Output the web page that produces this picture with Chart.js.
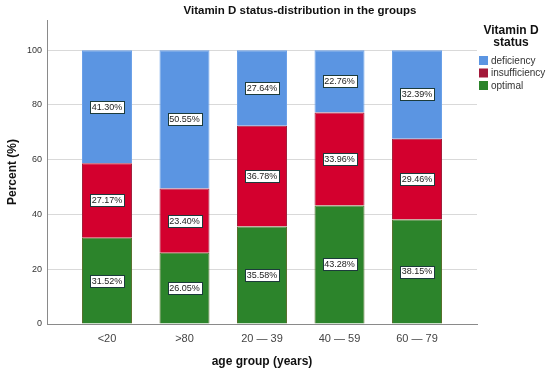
<!DOCTYPE html>
<html>
<head>
<meta charset="utf-8">
<script src="https://cdn.jsdelivr.net/npm/chart.js@4/dist/chart.umd.min.js"></script>
<style>
  html, body { margin: 0; padding: 0; background: #fff; }
  #wrap { width: 550px; height: 374px; position: relative; }
</style>
</head>
<body>
<div id="wrap"><canvas id="c" width="550" height="374"></canvas></div>
<script>
const categories = ['<20', '>80', '20 \u2014 39', '40 \u2014 59', '60 \u2014 79'];
const optimal = [31.52, 26.05, 35.58, 43.28, 38.15];
const insufficiency = [27.17, 23.40, 36.78, 33.96, 29.46];
const deficiency = [41.30, 50.55, 27.64, 22.76, 32.39];
const yTicks = [0, 20, 40, 60, 80, 100];

const FONT = '"Liberation Sans", Arial, sans-serif';
const toXY = arr => arr.map((v, i) => ({ x: i, y: v }));

const labelPlugin = {
  id: 'segLabels',
  afterDatasetsDraw(chart) {
    const ctx = chart.ctx;
    ctx.save();
    ctx.font = '9px ' + FONT;
    ctx.textAlign = 'center';
    ctx.textBaseline = 'middle';
    chart.data.datasets.forEach((ds, di) => {
      const meta = chart.getDatasetMeta(di);
      meta.data.forEach((el, i) => {
        const p = el.getProps(['x', 'y', 'base'], true);
        const cy = (p.y + p.base) / 2;
        const txt = ds.data[i].y.toFixed(2) + '%';
        const w = ctx.measureText(txt).width + 3;
        const h = 12;
        const bx = Math.round(p.x - w / 2) + 0.5, by = Math.round(cy - h / 2) + 0.5;
        ctx.fillStyle = '#ffffff';
        ctx.fillRect(bx, by, Math.round(w), h);
        ctx.strokeStyle = '#1c3b3b';
        ctx.lineWidth = 1;
        ctx.strokeRect(bx, by, Math.round(w), h);
        ctx.fillStyle = '#222';
        ctx.fillText(txt, p.x, cy + 0.5);
      });
    });
    ctx.restore();
  }
};

const textPlugin = {
  id: 'texts',
  afterDraw(chart) {
    const ctx = chart.ctx;
    const a = chart.chartArea;
    ctx.save();
    ctx.fillStyle = '#111';
    ctx.textAlign = 'center';
    ctx.textBaseline = 'middle';
    ctx.font = 'bold 11.5px ' + FONT;
    ctx.fillText('Vitamin D status-distribution in the groups', 300, 11);
    ctx.font = 'bold 12px ' + FONT;
    ctx.fillText('age group (years)', (a.left + a.right) / 2, 362);
    ctx.save();
    ctx.translate(13, (a.top + a.bottom) / 2);
    ctx.rotate(-Math.PI / 2);
    ctx.fillText('Percent (%)', 0, 0);
    ctx.restore();
    // legend
    ctx.fillText('Vitamin D', 511, 31);
    ctx.fillText('status', 511, 43);
    const items = [
      ['deficiency', '#5b95e2'],
      ['insufficiency', '#a3193a'],
      ['optimal', '#2c842b']
    ];
    ctx.font = '10px ' + FONT;
    ctx.textAlign = 'left';
    items.forEach((it, k) => {
      const y = 56 + k * 12.5;
      ctx.fillStyle = it[1];
      ctx.fillRect(479, y, 9, 9);
      ctx.fillStyle = '#333';
      ctx.fillText(it[0], 491, y + 5);
    });
    ctx.restore();
  }
};

new Chart(document.getElementById('c'), {
  type: 'bar',
  data: {
    datasets: [
      { label: 'optimal', data: toXY(optimal), backgroundColor: '#2c842b', borderColor: '#56702c', borderWidth: 1 },
      { label: 'insufficiency', data: toXY(insufficiency), backgroundColor: '#d3002e', borderColor: '#a21f3b', borderWidth: 1 },
      { label: 'deficiency', data: toXY(deficiency), backgroundColor: '#5b95e2', borderColor: '#6aa0e8', borderWidth: 1 }
    ]
  },
  options: {
    responsive: false,
    animation: false,
    events: [],
    layout: { padding: { left: 0, right: 73, top: 20, bottom: 0 } },
    plugins: { legend: { display: false }, title: { display: false }, tooltip: { enabled: false } },
    datasets: { bar: { categoryPercentage: 1, barPercentage: 0.645 } },
    scales: {
      x: {
        type: 'linear',
        stacked: true,
        offset: false,
        min: -0.774,
        max: 4.774,
        afterBuildTicks: s => { s.ticks = categories.map((c, i) => ({ value: i })); },
        afterFit: s => { s.height = 50; },
        grid: { display: false, drawTicks: false, offset: false },
        border: { display: true, color: '#8a8a8a', width: 1 },
        ticks: {
          callback: v => categories[v],
          font: { family: FONT, size: 11 },
          color: '#444',
          padding: 8,
          maxRotation: 0,
          autoSkip: false
        }
      },
      y: {
        stacked: true,
        min: 0,
        max: 111,
        afterBuildTicks: s => { s.ticks = yTicks.map(v => ({ value: v })); },
        afterFit: s => { s.width = 47; },
        grid: { color: '#d9d9d9', drawTicks: false },
        border: { display: true, color: '#8a8a8a', width: 1 },
        ticks: {
          font: { family: FONT, size: 9 },
          color: '#333',
          padding: 5
        }
      }
    }
  },
  plugins: [labelPlugin, textPlugin]
});
</script>
</body>
</html>
